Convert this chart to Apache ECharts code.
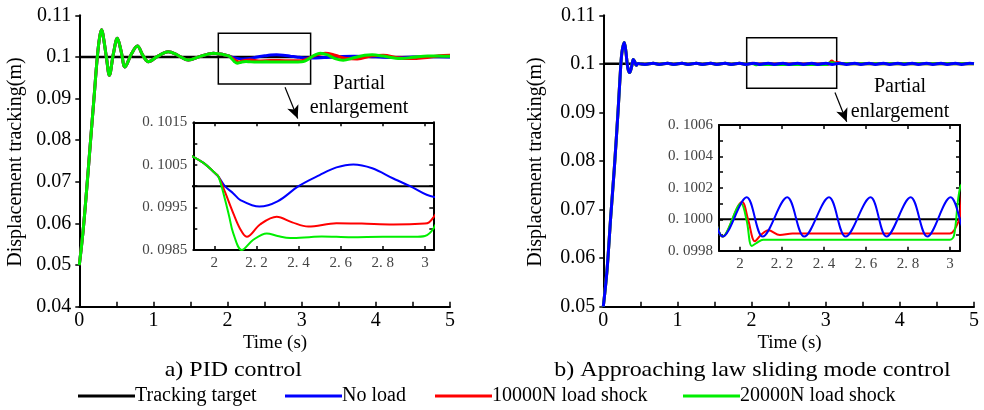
<!DOCTYPE html>
<html>
<head>
<meta charset="utf-8">
<script src="https://cdn.jsdelivr.net/npm/echarts@6/dist/echarts.min.js"></script>
<style>html,body{margin:0;padding:0;background:#fff}#c{width:984px;height:410px}</style>
</head>
<body>
<div id="c"></div>
<script>
// ---------- DATA ----------
const seriesNames = ['Tracking target', 'No load', '10000N load shock', '20000N load shock'];
const targetT = [0, 5];
const targetV = [0.1, 0.1];

// a) PID control
const pidCommonT = [0, 0.05, 0.1, 0.15, 0.2, 0.243, 0.275, 0.302, 0.33, 0.37, 0.405, 0.46, 0.513, 0.565, 0.616, 0.7, 0.783, 0.86, 0.931, 1.06, 1.2, 1.33, 1.47, 1.64, 1.81, 1.9, 1.95, 2.0, 2.02];
const pidCommonV = [0.05, 0.058, 0.0683, 0.0795, 0.0905, 0.1, 0.1048, 0.1065, 0.1042, 0.0993, 0.0956, 0.1008, 0.1045, 0.1013, 0.0976, 0.1006, 0.1026, 0.1003, 0.09885, 0.1002, 0.10125, 0.1004, 0.09925, 0.1002, 0.1009, 0.10069, 0.10054, 0.10032, 0.10022];
const pidNoLoadT = [2.05, 2.09, 2.122, 2.214, 2.3, 2.4, 2.5, 2.58, 2.66, 2.75, 2.85, 2.93, 3.04, 3.15, 3.3, 3.5, 3.7, 3.9, 4.1, 4.3, 4.5, 4.7, 4.85, 5.0];
const pidNoLoadV = [0.1, 0.09983, 0.09968, 0.09952, 0.09964, 0.1, 0.10026, 0.10044, 0.10051, 0.10042, 0.10018, 0.1, 0.09975, 0.09972, 0.09985, 0.10005, 0.10018, 0.10012, 0.09995, 0.09988, 0.09996, 0.10006, 0.10006, 0.10001];
const pid10kT = [2.05, 2.09, 2.122, 2.154, 2.217, 2.296, 2.37, 2.446, 2.58, 2.7, 2.85, 3.0, 3.02, 3.04, 3.1, 3.2, 3.32, 3.45, 3.6, 3.75, 3.95, 4.1, 4.3, 4.45, 4.65, 4.85, 5.0];
const pid10kV = [0.09987, 0.09936, 0.0990, 0.09881, 0.0991, 0.09928, 0.09915, 0.09905, 0.09913, 0.09912, 0.0991, 0.09912, 0.09915, 0.09926, 0.0997, 0.1005, 0.1009, 0.1004, 0.0996, 0.0995, 0.1003, 0.1004, 0.0998, 0.0996, 0.0998, 0.1003, 0.1004];
const pid20kT = [2.05, 2.07, 2.09, 2.13, 2.185, 2.249, 2.3, 2.36, 2.45, 2.51, 2.65, 2.8, 2.95, 3.0, 3.04, 3.1, 3.17, 3.25, 3.35, 3.45, 3.56, 3.7, 3.85, 3.95, 4.1, 4.33, 4.5, 4.7, 4.85, 5.0];
const pid20kV = [0.0997, 0.0993, 0.09889, 0.0985, 0.09874, 0.09889, 0.09883, 0.09878, 0.0988, 0.09882, 0.0988, 0.09881, 0.09881, 0.09883, 0.0990, 0.0996, 0.1004, 0.1009, 0.1005, 0.0996, 0.0992, 0.0998, 0.1004, 0.1005, 0.1002, 0.0996, 0.0999, 0.10025, 0.1002, 0.10015];

// b) Approaching law sliding mode control
const smcCommonT = [0, 0.05, 0.1, 0.15, 0.2, 0.225, 0.25, 0.283, 0.305, 0.33, 0.355, 0.38, 0.405, 0.425, 0.445, 0.47, 0.5, 0.56, 0.674, 0.754, 0.868, 0.948, 1.062, 1.142, 1.256, 1.336, 1.45, 1.53, 1.644, 1.724, 1.838, 1.918];
const smcCommonV = [0.05, 0.0575, 0.0685, 0.0788, 0.0905, 0.097, 0.1022, 0.1044, 0.1025, 0.0992, 0.0982, 0.0993, 0.1009, 0.1004, 0.0997, 0.1001, 0.1, 0.09989, 0.10014, 0.09989, 0.10014, 0.09989, 0.10014, 0.09989, 0.10014, 0.09989, 0.10014, 0.09989, 0.10014, 0.09989, 0.10014, 0.09989];
const smcNoLoadT = [2.032, 2.108, 2.225, 2.306, 2.424, 2.503, 2.622, 2.698, 2.813, 2.892, 3.003, 3.086, 3.197, 3.28, 3.391, 3.474, 3.585, 3.668, 3.779, 3.862, 3.973, 4.056, 4.167, 4.25, 4.361, 4.444, 4.555, 4.638, 4.749, 4.832, 4.943, 5.0];
const smcNoLoadV = [0.10014, 0.09989, 0.10014, 0.09989, 0.10014, 0.09989, 0.10014, 0.09989, 0.10014, 0.09989, 0.10014, 0.09989, 0.10014, 0.09989, 0.10014, 0.09989, 0.10014, 0.09989, 0.10014, 0.09989, 0.10014, 0.09989, 0.10014, 0.09989, 0.10014, 0.09989, 0.10014, 0.09989, 0.10014, 0.09989, 0.10014, 0.10005];
const smc10kT = [2.01, 2.04, 2.071, 2.1, 2.135, 2.19, 2.25, 2.4, 2.6, 2.8, 3.0, 3.02, 3.048, 3.08, 3.12, 3.16, 3.22, 3.5, 4.0, 4.5, 5.0];
const smc10kV = [0.10011, 0.09999, 0.09986, 0.0999, 0.09993, 0.0999, 0.09991, 0.09991, 0.09991, 0.09991, 0.09991, 0.09993, 0.10002, 0.10058, 0.1002, 0.1003, 0.1, 0.1, 0.1, 0.1, 0.1];
const smc20kT = [2.005, 2.032, 2.056, 2.08, 2.11, 2.2, 2.4, 2.6, 2.8, 3.0, 3.02, 3.048, 3.08, 3.12, 3.2, 3.5, 4.0, 4.5, 5.0];
const smc20kV = [0.1001, 0.09999, 0.09983, 0.09985, 0.09987, 0.09987, 0.09987, 0.09987, 0.09987, 0.09987, 0.0999, 0.1002, 0.10025, 0.1001, 0.1, 0.1, 0.1, 0.1, 0.1];

// tick labels
const mainXLabels = ['0', '1', '2', '3', '4', '5'];
const pidYLabels = ['0.04', '0.05', '0.06', '0.07', '0.08', '0.09', '0.1', '0.11'];
const smcYLabels = ['0.05', '0.06', '0.07', '0.08', '0.09', '0.1', '0.11'];
const insetXLabels = ['2', '2. 2', '2. 4', '2. 6', '2. 8', '3'];
const pidInsetYLabels = ['0. 0985', '0. 0995', '0. 1005', '0. 1015'];
const smcInsetYLabels = ['0. 0998', '0. 1000', '0. 1002', '0. 1004', '0. 1006'];

// annotation boxes (data space) and arrows
const pidBox = { x0: 1.875, x1: 3.12, y0: 0.0935, y1: 0.1057 };
const smcBox = { x0: 1.934, x1: 3.148, y0: 0.095, y1: 0.1054 };
const pidArrow = { x0: 2.775, y0: 0.0927, x1: 2.946, y1: 0.0852 };
const smcArrow = { x0: 3.125, y0: 0.0941, x1: 3.283, y1: 0.0881 };

// ---------- CHART ----------
const FONT = '"Liberation Serif", "Times New Roman", serif';
const colors = ['#000000', '#0000ff', '#ff0000', '#00ee00'];
const zip = (t, v) => t.map((x, i) => [x, v[i]]);

const pidData = [
  zip(targetT, targetV),
  zip(pidCommonT.concat(pidNoLoadT), pidCommonV.concat(pidNoLoadV)),
  zip(pidCommonT.concat(pid10kT), pidCommonV.concat(pid10kV)),
  zip(pidCommonT.concat(pid20kT), pidCommonV.concat(pid20kV))
];
const smcData = [
  zip(targetT, targetV),
  zip(smcCommonT.concat(smcNoLoadT), smcCommonV.concat(smcNoLoadV)),
  zip(smcCommonT.concat(smc10kT), smcCommonV.concat(smc10kV)),
  zip(smcCommonT.concat(smc20kT), smcCommonV.concat(smc20kV))
];

function mainX(gridIndex) {
  return {
    type: 'value', gridIndex, min: 0, max: 5, interval: 0.5,
    axisLine: { show: true, onZero: false, lineStyle: { color: '#000', width: 2 } },
    axisTick: { show: true, inside: true, length: 5, lineStyle: { color: '#000', width: 1.5 } },
    axisLabel: {
      margin: 4, color: '#000', fontFamily: FONT, fontSize: 20,
      formatter: v => { const i = Math.round(v / 0.5); return i % 2 ? '' : mainXLabels[i / 2]; }
    },
    splitLine: { show: false }
  };
}
function mainY(gridIndex, min, max, labels) {
  return {
    type: 'value', gridIndex, min, max, interval: 0.01,
    axisLine: { show: true, onZero: false, lineStyle: { color: '#000', width: 2 } },
    axisTick: { show: true, inside: false, length: 4, lineStyle: { color: '#000', width: 1.5 } },
    axisLabel: {
      margin: 8, color: '#000', fontFamily: FONT, fontSize: 20,
      formatter: v => labels[Math.round((v - min) / 0.01)]
    },
    splitLine: { show: false }
  };
}
function insetX(gridIndex, max, top) {
  const vals = [2, 2.2, 2.4, 2.6, 2.8, 3];
  return {
    type: 'value', gridIndex, min: 1.9, max, position: top ? 'top' : 'bottom',
    axisLine: { show: true, onZero: false, lineStyle: { color: '#000', width: 2 } },
    axisTick: { show: true, inside: true, length: 4, customValues: vals, lineStyle: { color: '#000', width: 1.5 } },
    axisLabel: {
      show: !top, margin: 6, color: '#444', fontFamily: FONT, fontSize: 15, customValues: vals,
      formatter: v => insetXLabels[Math.round((v - 2) / 0.2)]
    },
    splitLine: { show: false }
  };
}
function insetY(gridIndex, min, max, tickStep, labelStep, labels, right) {
  const ticks = [], lv = [];
  const nT = Math.round((max - min) / tickStep), nL = Math.round((max - min) / labelStep);
  for (let i = 0; i <= nT; i++) ticks.push(+(min + i * tickStep).toFixed(6));
  for (let i = 0; i <= nL; i++) lv.push(+(min + i * labelStep).toFixed(6));
  return {
    type: 'value', gridIndex, min, max, position: right ? 'right' : 'left',
    axisLine: { show: true, onZero: false, lineStyle: { color: '#000', width: 2 } },
    axisTick: { show: true, inside: true, length: 4, customValues: ticks, lineStyle: { color: '#000', width: 1.5 } },
    axisLabel: {
      show: !right, margin: 6, color: '#444', fontFamily: FONT, fontSize: 15, customValues: lv,
      formatter: v => labels[Math.round((v - min) / labelStep)]
    },
    splitLine: { show: false }
  };
}

function buildSeries(data, xi, yi, order, main, box, arrow) {
  return order.map(k => {
    const s = {
      type: 'line', name: seriesNames[k], xAxisIndex: xi, yAxisIndex: yi,
      data: data[k], showSymbol: false, smooth: 0.35, clip: true, silent: true,
      color: colors[k],
      lineStyle: { color: colors[k], width: main ? (k === 0 ? 2.5 : 3) : 2 },
      z: 2 + order.indexOf(k)
    };
    if (main && k === 0) {
      s.markArea = {
        silent: true,
        itemStyle: { color: 'rgba(0,0,0,0)', borderColor: '#000', borderWidth: 1.5 },
        data: [[{ coord: [box.x0, box.y1] }, { coord: [box.x1, box.y0] }]]
      };
      s.markLine = {
        silent: true, symbol: ['none', 'arrow'], symbolSize: [9, 13],
        label: { show: false },
        lineStyle: { color: '#000', width: 1.2, type: 'solid' },
        data: [[{ coord: [arrow.x0, arrow.y0] }, { coord: [arrow.x1, arrow.y1] }]]
      };
    }
    return s;
  });
}

function txt(x, y, text, size, extra) {
  return Object.assign({
    type: 'text', x, y, silent: true,
    style: { text, fontFamily: FONT, fontSize: size, fill: '#000', align: 'center', verticalAlign: 'middle' }
  }, extra || {});
}

function legendAt(name, left) {
  return {
    data: [name], left, top: 386, padding: 0, itemGap: 0,
    icon: 'rect', itemWidth: 57, itemHeight: 3, selectedMode: false,
    textStyle: { fontFamily: FONT, fontSize: 20, color: '#000', padding: [0, 0, 0, -5], lineHeight: 20 }
  };
}

const option = {
  animation: false,
  backgroundColor: '#fff',
  grid: [
    { left: 79.3, top: 15.3, width: 370.7, height: 291.4 },
    { left: 193.3, top: 122.3, width: 240, height: 127.7, show: true, backgroundColor: '#fff', borderWidth: 0 },
    { left: 603.3, top: 15.3, width: 370.7, height: 291.4 },
    { left: 719, top: 125, width: 241, height: 125.7, show: true, backgroundColor: '#fff', borderWidth: 0 }
  ],
  xAxis: [
    mainX(0),
    insetX(1, 3.04, false), insetX(1, 3.04, true),
    mainX(2),
    insetX(3, 3.048, false), insetX(3, 3.048, true)
  ],
  yAxis: [
    mainY(0, 0.04, 0.11, pidYLabels),
    insetY(1, 0.0985, 0.1015, 0.0005, 0.001, pidInsetYLabels, false),
    insetY(1, 0.0985, 0.1015, 0.0005, 0.001, pidInsetYLabels, true),
    mainY(2, 0.05, 0.11, smcYLabels),
    insetY(3, 0.0998, 0.1006, 0.0001, 0.0002, smcInsetYLabels, false),
    insetY(3, 0.0998, 0.1006, 0.0001, 0.0002, smcInsetYLabels, true)
  ],
  legend: [
    legendAt(seriesNames[0], 78),
    legendAt(seriesNames[1], 285),
    legendAt(seriesNames[2], 435),
    legendAt(seriesNames[3], 683)
  ],
  series: [].concat(
    buildSeries(pidData, 0, 0, [0, 1, 2, 3], true, pidBox, pidArrow),
    buildSeries(pidData, 1, 1, [0, 1, 2, 3], false),
    buildSeries(smcData, 3, 3, [0, 2, 3, 1], true, smcBox, smcArrow),
    buildSeries(smcData, 4, 4, [0, 2, 3, 1], false)
  ),
  graphic: [
    txt(16, 162, 'Displacement tracking(m)', 20, { rotation: Math.PI / 2 }),
    txt(536, 162, 'Displacement tracking(m)', 20, { rotation: Math.PI / 2 }),
    txt(275, 343, 'Time (s)', 19),
    txt(789.5, 343, 'Time (s)', 19),
    txt(359, 84, 'Partial', 20),
    txt(359, 108, 'enlargement', 20),
    txt(900, 87, 'Partial', 20),
    txt(900, 112, 'enlargement', 20),
    txt(233.3, 370, 'a) PID control', 22, { scaleX: 1.09 }),
    txt(752.5, 370, 'b) Approaching law sliding mode control', 22, { scaleX: 1.09 })
  ]
};

const chart = echarts.init(document.getElementById('c'), null, { renderer: 'canvas' });
chart.setOption(option);
</script>
</body>
</html>
